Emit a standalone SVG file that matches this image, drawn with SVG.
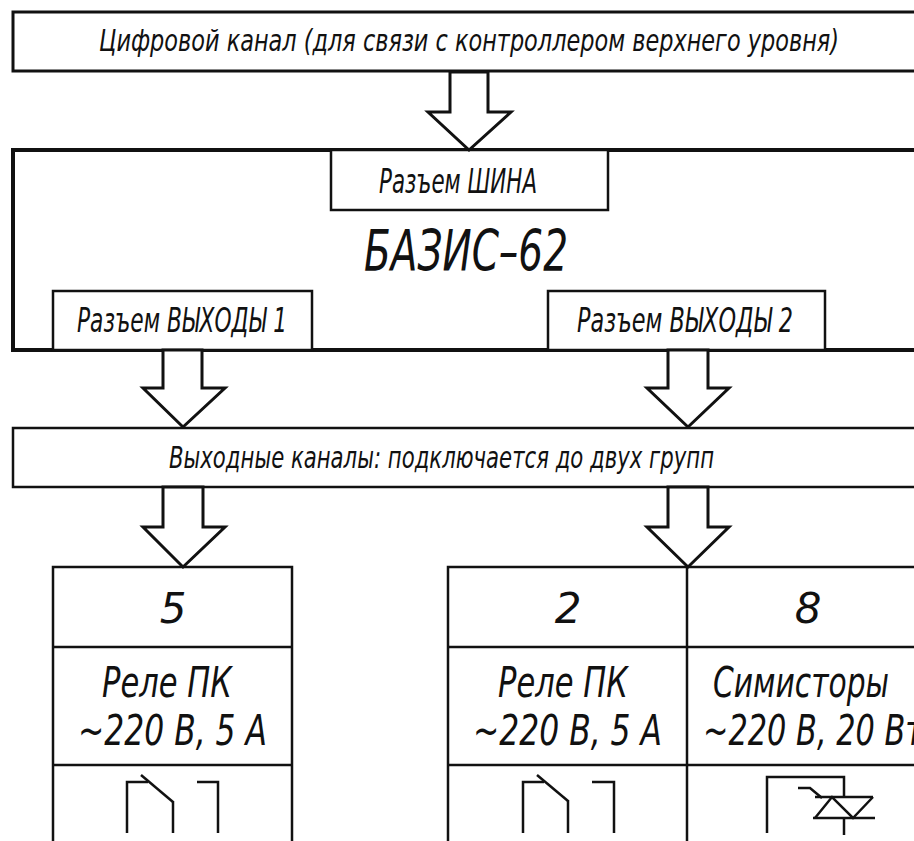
<svg xmlns="http://www.w3.org/2000/svg" width="914" height="841" viewBox="0 0 914 841">
<style>
.box{fill:#fff;stroke:#111;stroke-width:2.5}
.thick{fill:#fff;stroke:#111;stroke-width:4}
.line{fill:none;stroke:#111;stroke-width:2.5}
.arrow{fill:#fff;stroke:#111;stroke-width:3;stroke-linejoin:miter}
.sym{fill:none;stroke:#111;stroke-width:2.5;stroke-linejoin:miter}
text{font-family:"DejaVu Sans","Liberation Sans",sans-serif;font-weight:200;font-style:italic;fill:#111}
.t30{font-size:30px}
.t33{font-size:33px}
.t42{font-size:42px}
.t57{font-size:57px;font-weight:300}
</style>
<rect width="914" height="841" fill="#fff"/>
<g id="digital-channel">
<rect class="box" x="13" y="12" width="920" height="59" style="stroke-width:3"/>
<text class="t30" x="99" y="51" textLength="740" lengthAdjust="spacingAndGlyphs">Цифровой канал (для связи с контроллером верхнего уровня)</text>
</g>
<g id="bazis">
<rect class="thick" x="13" y="150" width="920" height="200"/>
<text class="t57" x="364" y="271" textLength="204" lengthAdjust="spacingAndGlyphs">БАЗИС–62</text>
</g>
<g id="bus-connector">
<rect class="box" x="331" y="150" width="277" height="60"/>
<text class="t33" x="379" y="193" textLength="158" lengthAdjust="spacingAndGlyphs">Разъем ШИНА</text>
</g>
<g id="outputs1-connector">
<rect class="box" x="53" y="291" width="259" height="59"/>
<text class="t33" x="77" y="332" textLength="210" lengthAdjust="spacingAndGlyphs">Разъем ВЫХОДЫ 1</text>
</g>
<g id="outputs2-connector">
<rect class="box" x="548" y="291" width="277" height="59"/>
<text class="t33" x="577" y="332" textLength="216" lengthAdjust="spacingAndGlyphs">Разъем ВЫХОДЫ 2</text>
</g>
<g id="output-channels">
<rect class="box" x="13" y="428" width="920" height="59"/>
<text class="t30" x="169" y="468" textLength="545" lengthAdjust="spacingAndGlyphs">Выходные каналы: подключается до двух групп</text>
</g>
<g id="group1">
<rect class="box" x="53" y="567" width="239" height="290"/>
<line class="line" x1="53" y1="647" x2="292" y2="647"/>
<line class="line" x1="53" y1="765" x2="292" y2="765"/>
<text class="t42" x="173" y="623" text-anchor="middle">5</text>
<text class="t42" x="102" y="697" textLength="130" lengthAdjust="spacingAndGlyphs">Реле ПК</text>
<text class="t42" x="78" y="745" textLength="189" lengthAdjust="spacingAndGlyphs">~220 В, 5 А</text>
<polyline class="sym" points="127,833 127,782 148,782"/>
<line class="sym" x1="141" y1="775" x2="173" y2="802"/>
<line class="sym" x1="173" y1="801" x2="173" y2="833"/>
<polyline class="sym" points="197,782 218,782 218,833"/>
</g>
<g id="group2">
<rect class="box" x="448" y="567" width="490" height="290"/>
<line class="line" x1="687" y1="567" x2="687" y2="841"/>
<line class="line" x1="448" y1="647" x2="914" y2="647"/>
<line class="line" x1="448" y1="765" x2="914" y2="765"/>
<text class="t42" x="568" y="623" text-anchor="middle">2</text>
<text class="t42" x="808" y="623" text-anchor="middle">8</text>
<text class="t42" x="498" y="697" textLength="130" lengthAdjust="spacingAndGlyphs">Реле ПК</text>
<text class="t42" x="473" y="745" textLength="189" lengthAdjust="spacingAndGlyphs">~220 В, 5 А</text>
<text class="t42" x="713" y="697" textLength="176" lengthAdjust="spacingAndGlyphs">Симисторы</text>
<text class="t42" x="703" y="745" textLength="220" lengthAdjust="spacingAndGlyphs">~220 В, 20 Вт</text>
<polyline class="sym" points="523,833 523,782 544,782"/>
<line class="sym" x1="537" y1="775" x2="568" y2="801"/>
<line class="sym" x1="568" y1="800" x2="568" y2="833"/>
<polyline class="sym" points="592,782 614,782 614,833"/>
<polyline class="sym" points="767,833 767,777 844,777 844,797"/>
<line class="sym" x1="815" y1="797" x2="873" y2="797"/>
<line class="sym" x1="813" y1="818" x2="875" y2="818"/>
<polyline class="sym" points="815,818 832,797 853,818 873,797"/>
<polyline class="sym" points="798,788 810,788 822,798"/>
<line class="sym" x1="844" y1="818" x2="844" y2="835"/>
</g>
<g id="connectors">
<polygon class="arrow" points="450,72 450,112 428,112 469,150 511,112 488,112 488,72"/>
<polygon class="arrow" points="163,350 163,388 143,388 183,427 225,388 202,388 202,350"/>
<polygon class="arrow" points="668,350 668,388 647,388 688,427 729,388 708,388 708,350"/>
<polygon class="arrow" points="163,487 163,527 143,527 183,567 225,527 203,527 203,487"/>
<polygon class="arrow" points="668,487 668,527 647,527 688,567 729,527 708,527 708,487"/>
</g>
</svg>
